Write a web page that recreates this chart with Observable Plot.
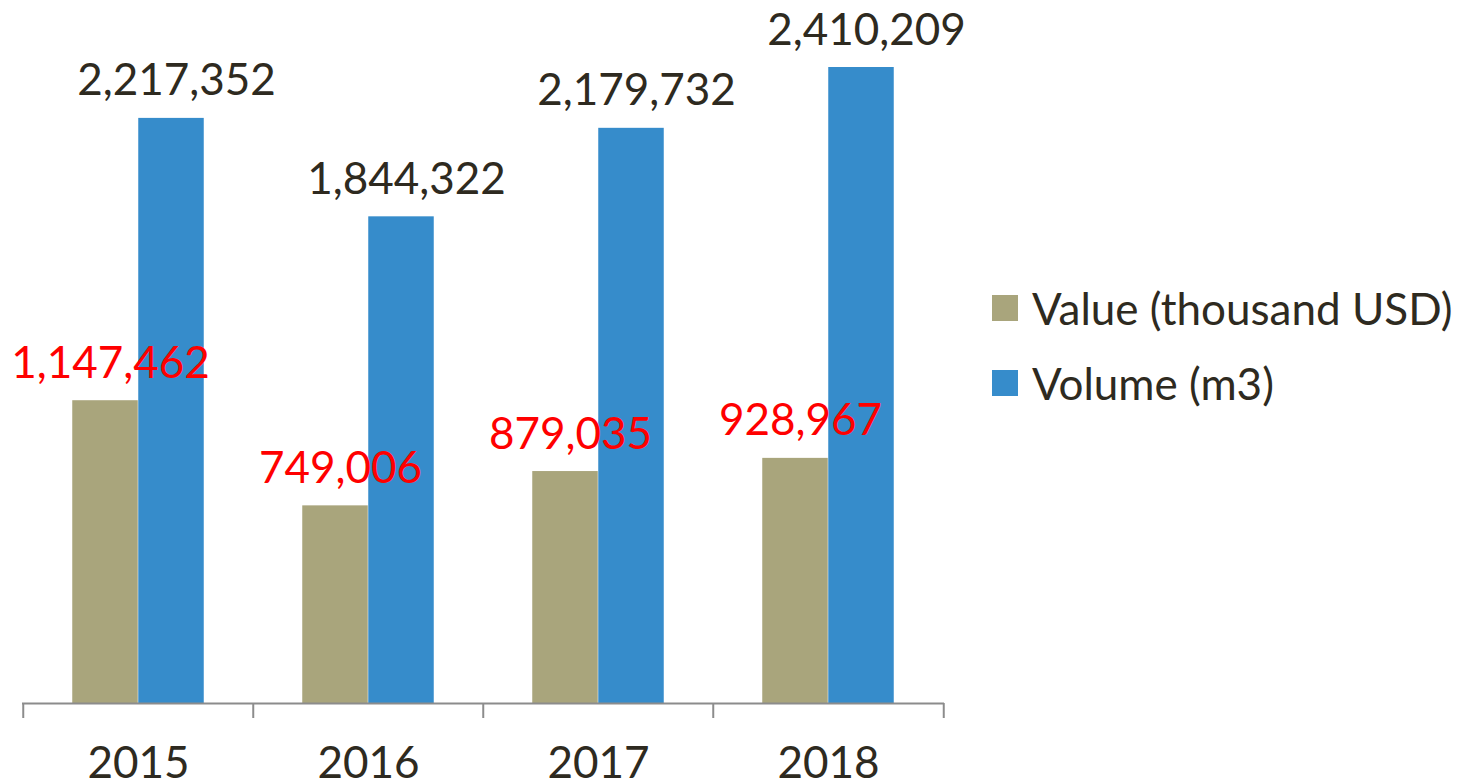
<!DOCTYPE html>
<html>
<head>
<meta charset="utf-8">
<script src="https://cdn.jsdelivr.net/npm/d3@7"></script>
<script src="https://cdn.jsdelivr.net/npm/@observablehq/plot@0.6"></script>
<style>
  html, body { margin: 0; padding: 0; background: #ffffff; }
  #wrap { position: relative; width: 1464px; height: 784px; overflow: hidden; font-family: Lato, "Open Sans", sans-serif; }
  #legend { position: absolute; left: 992px; top: 270px; color: #2e2a20; font-size: 44px; white-space: nowrap; }
  .item { display: flex; align-items: center; height: 75px; }
  .sw { width: 26px; height: 26px; margin-right: 14px; }
</style>
</head>
<body>
<div id="wrap"><div id="legend"></div></div>
<script>
const years = ["2015", "2016", "2017", "2018"];
const valueUSD = [1147462, 749006, 879035, 928967];
const volumeM3 = [2217352, 1844322, 2179732, 2410209];
const seriesNames = ["Value (thousand USD)", "Volume (m3)"];
const seriesColors = ["#a9a57c", "#368ccb"];

const W = 1464, H = 784;
const mL = 22, mR = 520, mT = 67, mB = 81;
const bw = (W - mL - mR) / years.length;
const barW = 66;
const gap = (bw - 2 * barW) / 2;

const valueRows = years.map((y, i) => ({year: y, v: valueUSD[i]}));
const volumeRows = years.map((y, i) => ({year: y, v: volumeM3[i]}));
const fmt = d3.format(",");
const font = "Lato, 'Open Sans', sans-serif";

const chart = Plot.plot({
  width: W,
  height: H,
  marginLeft: mL,
  marginRight: mR,
  marginTop: mT,
  marginBottom: mB,
  style: {fontFamily: font, background: "transparent", overflow: "visible"},
  x: {type: "band", domain: years, paddingInner: 0, paddingOuter: 0, axis: null, label: null},
  y: {domain: [0, d3.max(volumeM3)], axis: null},
  marks: [
    Plot.barY(valueRows, {x: "year", y: "v", fill: seriesColors[0], insetLeft: gap, insetRight: gap + barW}),
    Plot.barY(volumeRows, {x: "year", y: "v", fill: seriesColors[1], insetLeft: gap + barW, insetRight: gap}),
    Plot.ruleY([0], {stroke: "#8c8c8c", strokeWidth: 2}),
    Plot.axisX(years, {tickSize: 15, stroke: "#8c8c8c", strokeWidth: 2, text: null, label: null, dx: -bw / 2}),
    Plot.axisX([years[years.length - 1]], {tickSize: 15, stroke: "#8c8c8c", strokeWidth: 2, text: null, label: null, dx: bw / 2}),
    Plot.axisX(years, {tickSize: 0, tickPadding: 43, fontSize: 44, fill: "#2e2a20", fontFamily: font, label: null}),
    Plot.text(valueRows, {x: "year", y: "v", text: d => fmt(d.v), lineAnchor: "bottom", dy: -23, dx: -barW / 2 + 5, fill: "#ff0000", fontSize: 44, fontFamily: font}),
    Plot.text(volumeRows, {x: "year", y: "v", text: d => fmt(d.v), lineAnchor: "bottom", dy: -23, dx: barW / 2 + 5, fill: "#2e2a20", fontSize: 44, fontFamily: font})
  ]
});

const wrap = document.getElementById("wrap");
wrap.insertBefore(chart, wrap.firstChild);

const legend = document.getElementById("legend");
seriesNames.forEach((name, i) => {
  const item = document.createElement("div");
  item.className = "item";
  const sw = document.createElement("div");
  sw.className = "sw";
  sw.style.background = seriesColors[i];
  const label = document.createElement("span");
  label.textContent = name;
  item.appendChild(sw);
  item.appendChild(label);
  legend.appendChild(item);
});
</script>
</body>
</html>
